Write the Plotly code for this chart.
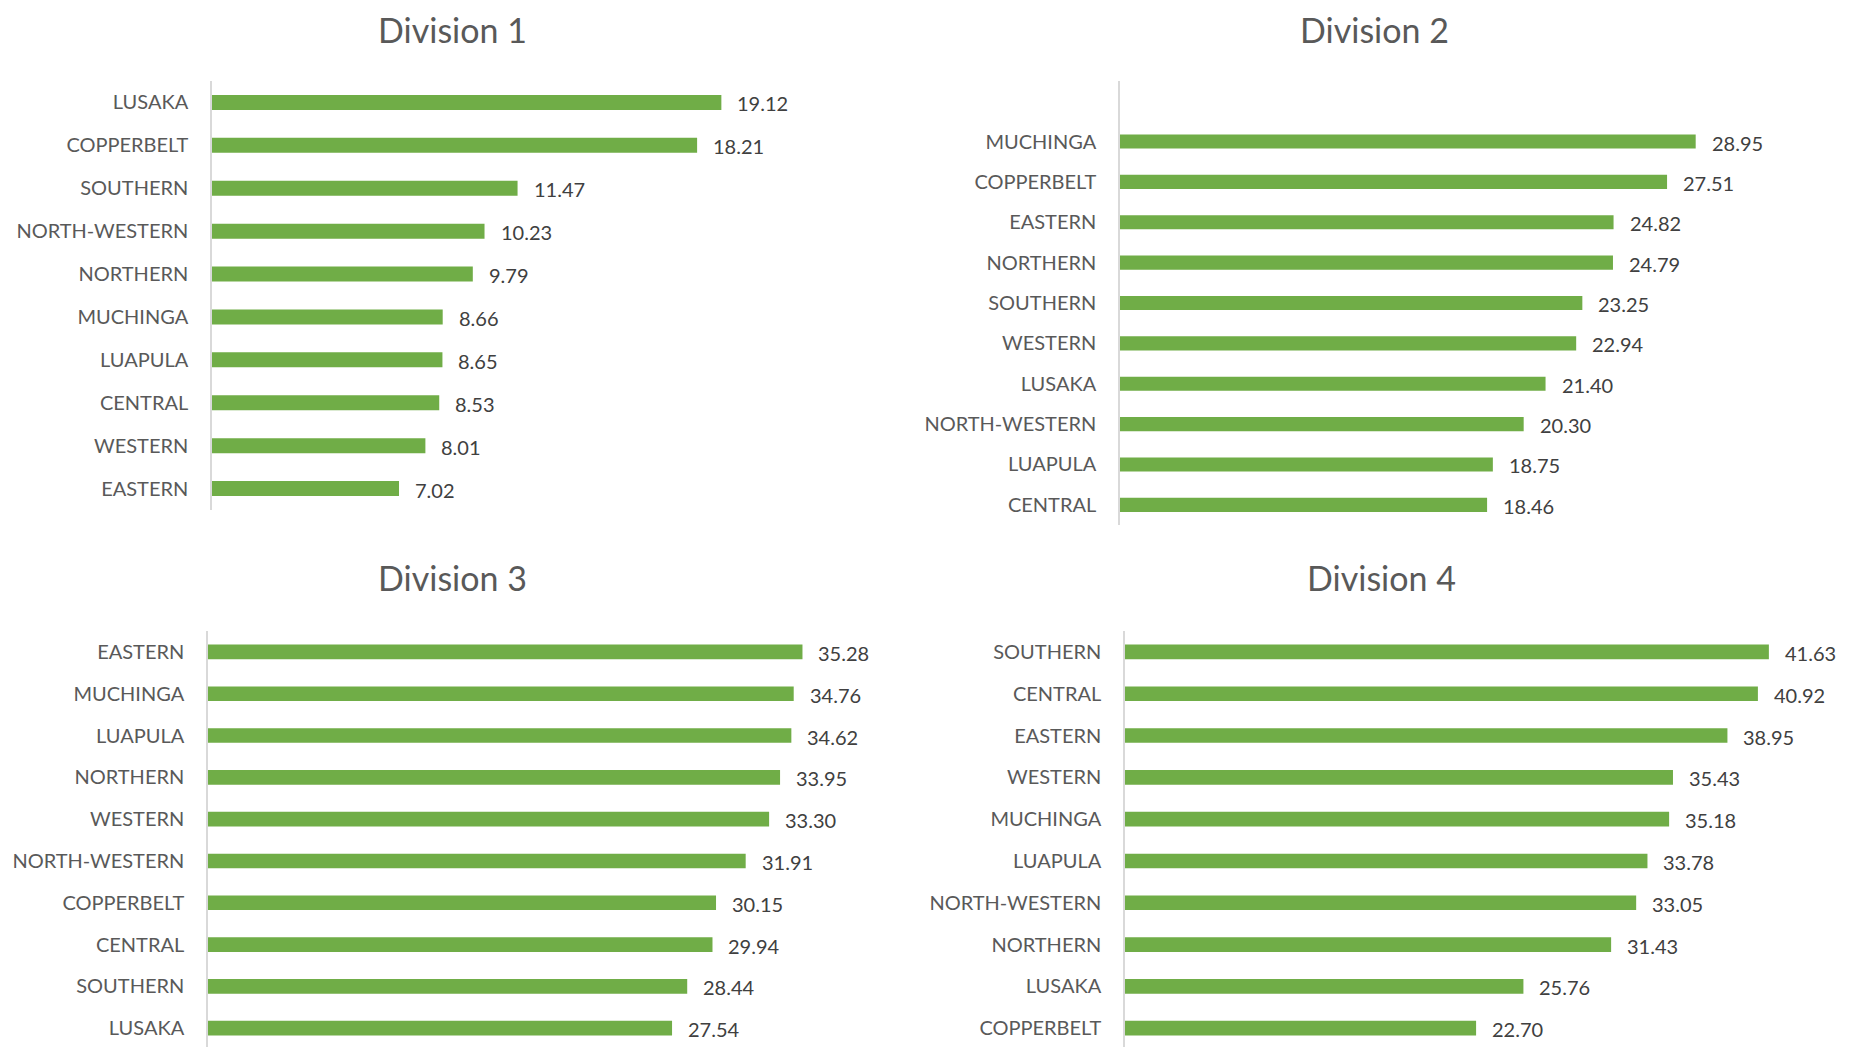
import plotly.graph_objects as go

# the page body adds an 8px margin, so the figure is drawn 8px smaller and offset
OFF = 8
W, H = 1858 - OFF, 1047 - OFF

div1_cats = ["LUSAKA", "COPPERBELT", "SOUTHERN", "NORTH-WESTERN", "NORTHERN",
             "MUCHINGA", "LUAPULA", "CENTRAL", "WESTERN", "EASTERN"]
div1_vals = [19.12, 18.21, 11.47, 10.23, 9.79, 8.66, 8.65, 8.53, 8.01, 7.02]

div2_cats = ["MUCHINGA", "COPPERBELT", "EASTERN", "NORTHERN", "SOUTHERN",
             "WESTERN", "LUSAKA", "NORTH-WESTERN", "LUAPULA", "CENTRAL"]
div2_vals = [28.95, 27.51, 24.82, 24.79, 23.25, 22.94, 21.40, 20.30, 18.75, 18.46]

div3_cats = ["EASTERN", "MUCHINGA", "LUAPULA", "NORTHERN", "WESTERN",
             "NORTH-WESTERN", "COPPERBELT", "CENTRAL", "SOUTHERN", "LUSAKA"]
div3_vals = [35.28, 34.76, 34.62, 33.95, 33.30, 31.91, 30.15, 29.94, 28.44, 27.54]

div4_cats = ["SOUTHERN", "CENTRAL", "EASTERN", "WESTERN", "MUCHINGA",
             "LUAPULA", "NORTH-WESTERN", "NORTHERN", "LUSAKA", "COPPERBELT"]
div4_vals = [41.63, 40.92, 38.95, 35.43, 35.18, 33.78, 33.05, 31.43, 25.76, 22.70]

titles = ["Division 1", "Division 2", "Division 3", "Division 4"]
x_max = [25, 35, 40, 45]

GREEN = "#70AD47"
LABEL = "#595959"
VALUE = "#404040"
AXIS = "#D9D9D9"
FONT = "Lato"

# panel geometry in screen pixels: (x_left, x_right, y_top, y_bottom)
panels = [
    (212, 878, 81, 510),
    (1120, 1816, 81, 525),
    (208, 882, 631, 1047),
    (1125, 1821, 631, 1047),
]
y_ranges = [[9.5, -0.5], [9.5, -1.5], [9.45, -0.5], [9.45, -0.5]]
# title anchor: (x centre, y, yanchor) in screen pixels
title_pos = [(452, 8, "top"), (1374, 8, "top"),
             (452, 577, "middle"), (1381, 577, "middle")]

data = [(div1_cats, div1_vals), (div2_cats, div2_vals),
        (div3_cats, div3_vals), (div4_cats, div4_vals)]

fig = go.Figure()
layout = dict(
    width=W, height=H,
    margin=dict(l=0, r=0, t=0, b=0),
    paper_bgcolor="white", plot_bgcolor="white",
    showlegend=False,
    bargap=0.65,
    font=dict(family=FONT, color=LABEL, size=20),
)
annotations = []

for i, (cats, vals) in enumerate(data):
    n = "" if i == 0 else str(i + 1)
    xl, xr, yt, yb = [p - OFF for p in panels[i]]
    fig.add_trace(go.Bar(
        x=vals, y=cats, orientation="h",
        marker=dict(color=GREEN, line=dict(width=0)),
        xaxis="x" + n, yaxis="y" + n,
        hoverinfo="x+y",
    ))
    layout["xaxis" + n] = dict(
        domain=[xl / W, xr / W], range=[0, x_max[i]],
        anchor="y" + n, showgrid=False, zeroline=False,
        showticklabels=False, showline=False, ticks="",
    )
    layout["yaxis" + n] = dict(
        domain=[max(0, 1 - yb / H), 1 - yt / H], range=y_ranges[i],
        anchor="x" + n, type="category",
        showgrid=False, zeroline=False,
        showline=True, linecolor=AXIS, linewidth=1.5,
        ticks="", ticklabelstandoff=18,
        tickfont=dict(family=FONT, color=LABEL, size=20),
    )
    for c, v in zip(cats, vals):
        annotations.append(dict(
            x=v, y=c, xref="x" + n, yref="y" + n,
            text=f"{v:.2f}", showarrow=False,
            xanchor="left", yanchor="middle", xshift=14, yshift=-1,
            font=dict(family=FONT, color=VALUE, size=20),
        ))
    tx, ty, ya = title_pos[i]
    annotations.append(dict(
        x=(tx - OFF) / W, y=1 - (ty - OFF) / H, xref="paper", yref="paper",
        text=titles[i], showarrow=False, borderpad=0,
        xanchor="center", yanchor=ya,
        font=dict(family=FONT, color=LABEL, size=34),
    ))

layout["annotations"] = annotations
fig.update_layout(**layout)
fig.write_html("out.html")
